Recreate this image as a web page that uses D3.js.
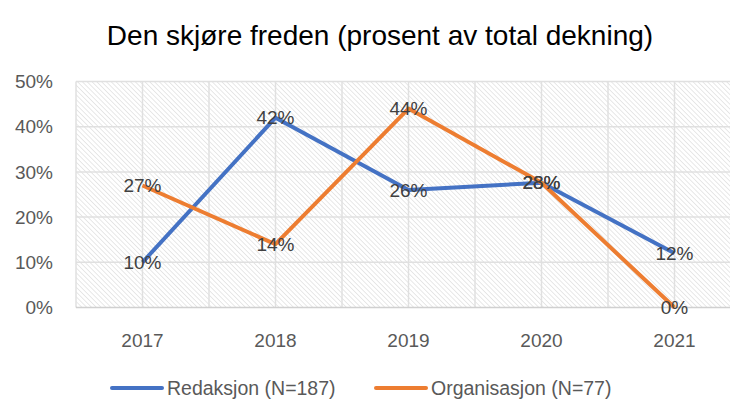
<!DOCTYPE html>
<html lang="no">
<head>
<meta charset="utf-8">
<title>Den skjøre freden</title>
<script src="https://cdn.jsdelivr.net/npm/d3@7"></script>
<style>
body { margin: 0; background: #fff; }
text { font-family: "Liberation Sans", Arial, sans-serif; }
</style>
</head>
<body>
<script>
// data
var years = ["2017", "2018", "2019", "2020", "2021"];
var redaksjon = [10, 42, 26, 27.6, 12];
var organisasjon = [27, 14, 44, 27.6, 0];
var redLabels = ["10%", "42%", "26%", "28%", "12%"];
var orgLabels = ["27%", "14%", "44%", "28%", "0%"];
var yTicks = [0, 10, 20, 30, 40, 50];

var w = 730, h = 403;
var blue = "#4472c4", orange = "#ed7d31";

var svg = d3.select("body").append("svg")
  .attr("width", w)
  .attr("height", h);

// hatch fill for plot area (lines going down to the right)
var defs = svg.append("defs");
var pat = defs.append("pattern")
  .attr("id", "hatch")
  .attr("patternUnits", "userSpaceOnUse")
  .attr("width", 3.4)
  .attr("height", 3.4)
  .attr("patternTransform", "rotate(-45)");
pat.append("rect").attr("width", 3.4).attr("height", 3.4).attr("fill", "#fff");
pat.append("line")
  .attr("x1", 0).attr("y1", 0).attr("x2", 0).attr("y2", 3.4)
  .attr("stroke", "#dedede").attr("stroke-width", 1.4);

var pLeft = 76, pRight = 741, pTop = 81.5, pBottom = 307.5;

var x = d3.scalePoint().domain(years).range([pLeft + 66.5, pRight - 66.5]);
var y = d3.scaleLinear().domain([0, 50]).range([pBottom, pTop]);

svg.append("rect")
  .attr("x", pLeft).attr("y", pTop)
  .attr("width", pRight - pLeft).attr("height", pBottom - pTop)
  .attr("fill", "url(#hatch)");

// gridlines
var vLines = d3.range(0, 11).map(function(i) { return pLeft + i * (pRight - pLeft) / 10; });
svg.selectAll("line.v")
  .data(vLines)
  .enter()
  .append("line")
  .attr("class", "v")
  .attr("x1", function(d) { return d; })
  .attr("x2", function(d) { return d; })
  .attr("y1", pTop).attr("y2", pBottom)
  .attr("stroke", "#e0e0e0").attr("stroke-width", 1.5);

svg.selectAll("line.h")
  .data(yTicks)
  .enter()
  .append("line")
  .attr("class", "h")
  .attr("x1", pLeft).attr("x2", pRight)
  .attr("y1", function(d) { return y(d); })
  .attr("y2", function(d) { return y(d); })
  .attr("stroke", function(d) { return d === 0 ? "#d0d0d0" : "#e0e0e0"; })
  .attr("stroke-width", 1.5);

// axes labels
svg.selectAll("text.ytick")
  .data(yTicks)
  .enter()
  .append("text")
  .attr("class", "ytick")
  .attr("x", 53)
  .attr("y", function(d) { return y(d); })
  .attr("dy", "0.35em")
  .attr("text-anchor", "end")
  .attr("font-size", "19px")
  .attr("fill", "#595959")
  .text(function(d) { return d + "%"; });

svg.selectAll("text.xtick")
  .data(years)
  .enter()
  .append("text")
  .attr("class", "xtick")
  .attr("x", function(d) { return x(d); })
  .attr("y", 347)
  .attr("text-anchor", "middle")
  .attr("font-size", "19px")
  .attr("fill", "#595959")
  .text(function(d) { return d; });

// lines
var line = d3.line()
  .x(function(d, i) { return x(years[i]); })
  .y(function(d) { return y(d); });

svg.append("path")
  .datum(redaksjon)
  .attr("d", line)
  .attr("fill", "none")
  .attr("stroke", blue)
  .attr("stroke-width", 4)
  .attr("stroke-linejoin", "round");

svg.append("path")
  .datum(organisasjon)
  .attr("d", line)
  .attr("fill", "none")
  .attr("stroke", orange)
  .attr("stroke-width", 4)
  .attr("stroke-linejoin", "round");

// data labels, centred on the points
function labels(vals, txt, cls) {
  svg.selectAll("text." + cls)
    .data(vals)
    .enter()
    .append("text")
    .attr("class", cls)
    .attr("x", function(d, i) { return x(years[i]); })
    .attr("y", function(d) { return y(d); })
    .attr("dy", "0.35em")
    .attr("text-anchor", "middle")
    .attr("font-size", "19px")
    .attr("fill", "#404040")
    .text(function(d, i) { return txt[i]; });
}
labels(redaksjon, redLabels, "rl");
labels(organisasjon, orgLabels, "ol");

// title
svg.append("text")
  .attr("x", 380)
  .attr("y", 45)
  .attr("text-anchor", "middle")
  .attr("font-size", "28px")
  .attr("fill", "#000")
  .text("Den skjøre freden (prosent av total dekning)");

// legend
var legend = [
  { name: "Redaksjon (N=187)", color: blue, x: 112 },
  { name: "Organisasjon (N=77)", color: orange, x: 376 }
];
var lg = svg.selectAll("g.legend")
  .data(legend)
  .enter()
  .append("g")
  .attr("class", "legend")
  .attr("transform", function(d) { return "translate(" + d.x + ",388)"; });
lg.append("line")
  .attr("x1", 0).attr("x2", 50)
  .attr("stroke", function(d) { return d.color; })
  .attr("stroke-width", 4)
  .attr("stroke-linecap", "round");
lg.append("text")
  .attr("x", 55)
  .attr("dy", "0.35em")
  .attr("font-size", "19.5px")
  .attr("fill", "#595959")
  .text(function(d) { return d.name; });
</script>
</body>
</html>
